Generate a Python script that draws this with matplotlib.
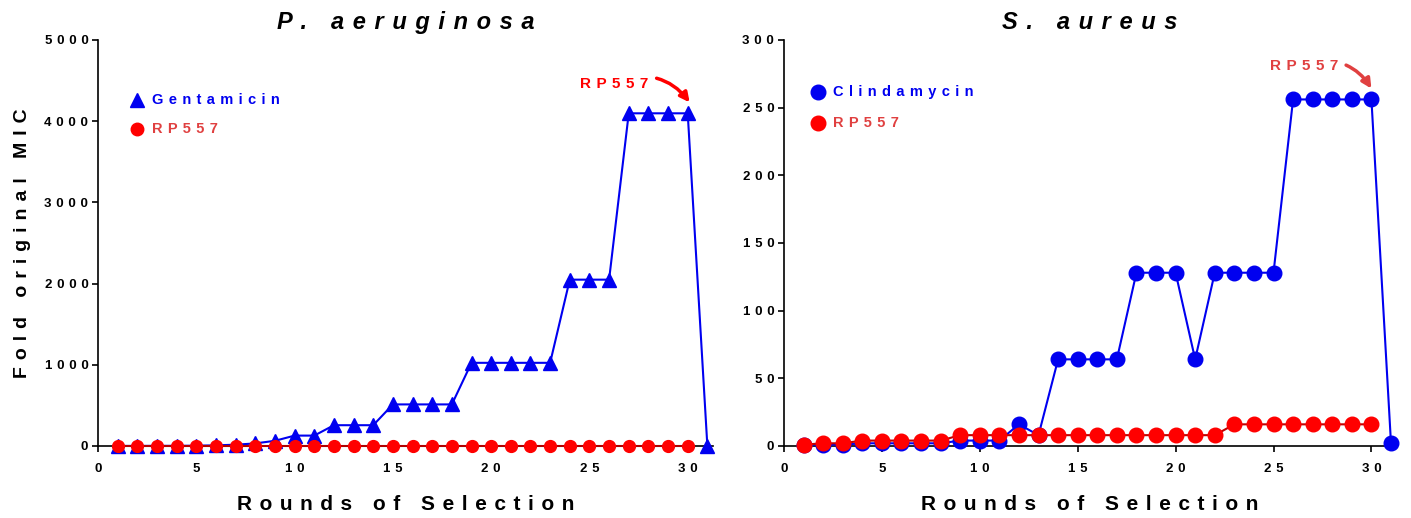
import matplotlib
matplotlib.use("Agg")
import matplotlib.pyplot as plt

# Selection rounds and fold change of the original MIC
rounds_pa = list(range(1, 32))
gentamicin = [1, 1, 2, 2, 4, 8, 16, 32, 64, 128, 128, 256, 256, 256, 512, 512, 512, 512,
              1024, 1024, 1024, 1024, 1024, 2048, 2048, 2048, 4096, 4096, 4096, 4096, 1]
rounds_rp_pa = list(range(1, 31))
rp557_pa = [1] * 30

rounds_sa = list(range(1, 32))
clindamycin = [1, 1, 1, 2, 2, 2, 2, 2, 4, 4, 4, 16, 8, 64, 64, 64, 64, 128, 128, 128,
               64, 128, 128, 128, 128, 256, 256, 256, 256, 256, 2]
rounds_rp_sa = list(range(1, 31))
rp557_sa = [1, 2, 2, 4, 4, 4, 4, 4, 8, 8, 8, 8, 8, 8, 8, 8, 8, 8, 8, 8, 8, 8,
            16, 16, 16, 16, 16, 16, 16, 16]

pa_yticks = [0, 1000, 2000, 3000, 4000, 5000]
sa_yticks = [0, 50, 100, 150, 200, 250, 300]
xticks = [0, 5, 10, 15, 20, 25, 30]

BLUE = "#0000f0"
RED = "#ff0000"
RED_SOFT = "#e04040"
FONT = ["Liberation Sans", "DejaVu Sans"]

WIDE = " \u200a"       # letter gap for headings, labels and tick numbers


def spaced(s, gap=WIDE):
    """Widely tracked text: a gap between letters, a wider one between words."""
    return (gap + " " + gap).join(gap.join(w) for w in s.split(" "))


fig = plt.figure(figsize=(14.11, 5.18), dpi=100)
ax1 = fig.add_axes([0.0695, 0.139, 0.436, 0.784])
ax2 = fig.add_axes([0.5556, 0.139, 0.433, 0.784])


def style_axes(ax, yticks, ylim, xlim):
    for side in ("top", "right"):
        ax.spines[side].set_visible(False)
    for side in ("left", "bottom"):
        ax.spines[side].set_linewidth(1.2)
    ax.set_xlim(*xlim)
    ax.set_ylim(*ylim)
    ax.set_xticks(xticks)
    ax.set_yticks(yticks)
    ax.set_xticklabels([spaced(str(t)) for t in xticks], fontsize=9.5,
                       fontweight="bold", family=FONT)
    ax.set_yticklabels([spaced(str(t)) for t in yticks], fontsize=9.5,
                       fontweight="bold", family=FONT)
    ax.tick_params(direction="out", length=4, width=1.2)
    ax.tick_params(axis="x", pad=8)
    ax.tick_params(axis="y", pad=3)
    ax.set_xlabel(spaced("Rounds of Selection"), fontsize=15, fontweight="bold",
                  family=FONT, labelpad=15)


style_axes(ax1, pa_yticks, (0, 5000), (0, 31.3))
style_axes(ax2, sa_yticks, (0, 300), (0, 31.2))
ax1.set_ylabel(spaced("Fold original MIC"), fontsize=14, fontweight="bold",
               family=FONT, labelpad=10)

ax1.set_title(spaced("P. aeruginosa"), fontsize=17, fontweight="bold",
              style="italic", family=FONT, pad=8)
ax2.set_title(spaced("S. aureus"), fontsize=17, fontweight="bold",
              style="italic", family=FONT, pad=8)

# P. aeruginosa panel
ax1.plot(rounds_pa, gentamicin, color=BLUE, lw=1.5, marker="^", ms=10,
         mec=BLUE, clip_on=False, zorder=3)
ax1.plot(rounds_rp_pa, rp557_pa, color="#b00000", lw=1.5, marker="o", ms=8.5,
         mfc=RED, mec=RED, clip_on=False, zorder=4)

# S. aureus panel
ax2.plot(rounds_sa, clindamycin, color=BLUE, lw=1.5, marker="o", ms=10.5,
         mec=BLUE, clip_on=False, zorder=3)
ax2.plot(rounds_rp_sa, rp557_sa, color="#c00000", lw=1.5, marker="o", ms=10.5,
         mfc=RED, mec=RED, clip_on=False, zorder=4)


def legend(ax, entries, x0, y0, dy):
    for i, (marker, ms, mcolor, label, tcolor) in enumerate(entries):
        y = y0 - i * dy
        ax.plot([x0], [y], marker=marker, ms=ms, color=mcolor,
                transform=ax.transAxes, clip_on=False)
        ax.text(x0 + 0.025, y, spaced(label), color=tcolor, fontsize=10.5,
                fontweight="bold", family=FONT, va="center", ha="left",
                transform=ax.transAxes)


legend(ax1, [("^", 10, BLUE, "Gentamicin", BLUE),
             ("o", 9, RED, "RP557", RED_SOFT)], 0.063, 0.853, 0.072)
legend(ax2, [("o", 10.5, BLUE, "Clindamycin", BLUE),
             ("o", 10.5, RED, "RP557", RED_SOFT)], 0.055, 0.872, 0.076)

# Curved arrows pointing at the final RP557-treated round
ax1.annotate(spaced("RP557"), xy=(30.1, 4230), xytext=(28.0, 4460),
             color=RED, fontsize=11, fontweight="bold", family=FONT,
             ha="right", va="center",
             arrowprops=dict(arrowstyle="-|>", color=RED, lw=2.5,
                             mutation_scale=14, shrinkA=4, shrinkB=0,
                             connectionstyle="arc3,rad=-0.4"))
ax2.annotate(spaced("RP557"), xy=(30.0, 264), xytext=(28.3, 281),
             color=RED_SOFT, fontsize=11, fontweight="bold", family=FONT,
             ha="right", va="center",
             arrowprops=dict(arrowstyle="-|>", color=RED_SOFT, lw=2.5,
                             mutation_scale=14, shrinkA=4, shrinkB=0,
                             connectionstyle="arc3,rad=-0.4"))

fig.savefig("out.png", dpi=100)
